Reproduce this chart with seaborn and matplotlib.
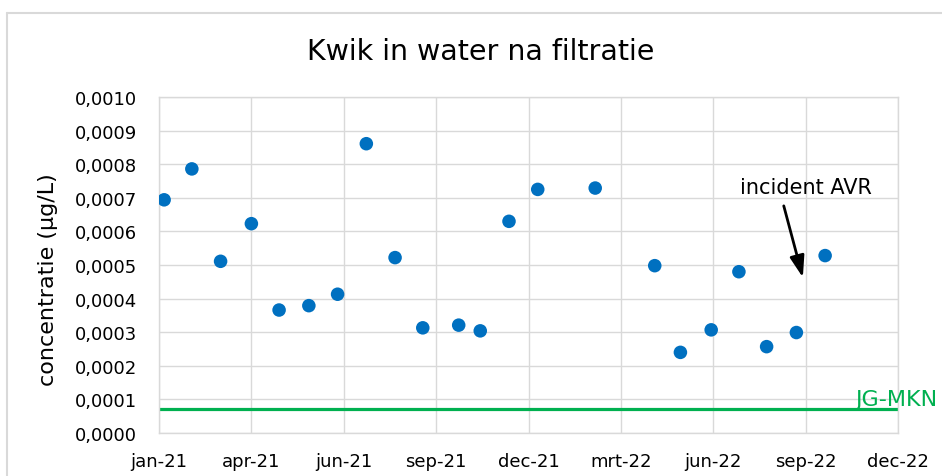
import pandas as pd
import matplotlib.pyplot as plt
import matplotlib.lines as mlines
import seaborn as sns

# ----------------------------------------------------------
# Data
# ----------------------------------------------------------
sample_dates = [
    "2021-01-06", "2021-02-02", "2021-03-02", "2021-04-01", "2021-04-28",
    "2021-05-27", "2021-06-24", "2021-07-22", "2021-08-19", "2021-09-15",
    "2021-10-20", "2021-11-10", "2021-12-08", "2022-01-05", "2022-03-02",
    "2022-04-29", "2022-05-24", "2022-06-23", "2022-07-20", "2022-08-16",
    "2022-09-14", "2022-10-12",
]
concentration = [
    0.000694, 0.000786, 0.000511, 0.000623, 0.000366,
    0.000379, 0.000413, 0.000861, 0.000522, 0.000313,
    0.000321, 0.000304, 0.000630, 0.000725, 0.000729,
    0.000498, 0.000240, 0.000307, 0.000480, 0.000257,
    0.000299, 0.000528,
]
jg_mkn = 0.00007
x_tick_labels = ["jan-21", "apr-21", "jun-21", "sep-21", "dec-21",
                 "mrt-22", "jun-22", "sep-22", "dec-22"]
y_ticks = [i / 10000 for i in range(11)]

df = pd.DataFrame({"Datum": pd.to_datetime(sample_dates),
                   "Concentratie": concentration})

# ----------------------------------------------------------
# Style
# ----------------------------------------------------------
sns.set_style("white")
plt.rcParams["font.family"] = ["DejaVu Sans"]

grid_color = "#D9D9D9"
dot_color = "#0070C0"
green = "#00B050"

fig = plt.figure(figsize=(9.42, 4.77), dpi=100)
ax = fig.add_axes([159 / 942, 1 - 434 / 477, 739 / 942, 336 / 477])

sns.scatterplot(data=df, x="Datum", y="Concentratie", ax=ax,
                color=dot_color, s=95, edgecolor="none", zorder=3)

# norm line
ax.axhline(jg_mkn, color=green, lw=2.3, zorder=2)
ax.text(0.942, 0.0000835, "JG-MKN", color=green, fontsize=16,
        transform=ax.get_yaxis_transform(), ha="left", va="baseline",
        clip_on=False)

# annotation
ax.annotate("", xy=(pd.Timestamp("2022-09-21"), 0.000455),
            xytext=(pd.Timestamp("2022-09-01"), 0.000684),
            arrowprops=dict(arrowstyle="-|>,head_length=0.65,head_width=0.22",
                            color="black", lw=2.0, mutation_scale=20),
            zorder=4)
ax.text(pd.Timestamp("2022-09-23"), 0.000731, "incident AVR",
        ha="center", va="center", fontsize=15, color="black")

# axes
start = pd.Timestamp("2021-01-01")
x_ticks = pd.date_range(start, periods=len(x_tick_labels), freq="90D")
ax.set_xlim(x_ticks[0], x_ticks[-1])
ax.set_xticks(x_ticks)
ax.set_xticklabels(x_tick_labels)
ax.set_ylim(0, 0.001)
ax.set_yticks(y_ticks)
ax.set_yticklabels([f"{v:.4f}".replace(".", ",") for v in y_ticks])
ax.tick_params(axis="both", length=0, labelsize=13, colors="black")
ax.tick_params(axis="x", pad=14)
ax.tick_params(axis="y", pad=16)

ax.grid(True, color=grid_color, lw=1.0)
ax.set_axisbelow(True)
for sp in ax.spines.values():
    sp.set_color(grid_color)
    sp.set_linewidth(1.0)

ax.set_xlabel("")
ax.set_ylabel("concentratie (µg/L)", fontsize=16, color="black")
ax.yaxis.set_label_coords(-0.137, 0.46)

fig.text(481 / 942, 1 - 52 / 477, "Kwik in water na filtratie",
         ha="center", va="center", fontsize=20.5, color="black")

# chart border (partially visible in the reference)
bx, by = 7 / 942, 1 - 14 / 477
fig.add_artist(mlines.Line2D([bx, bx], [0, by], color=grid_color, lw=1.5,
                             transform=fig.transFigure))
fig.add_artist(mlines.Line2D([bx, 1], [by, by], color=grid_color, lw=1.5,
                             transform=fig.transFigure))

fig.savefig("out.png", dpi=100)
